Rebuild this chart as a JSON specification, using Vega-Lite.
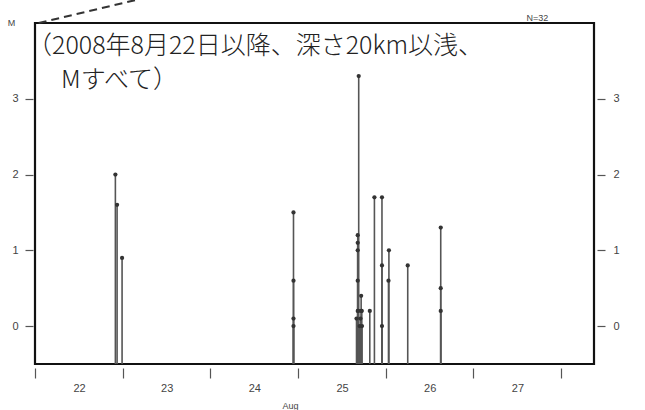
{
  "$schema": "https://vega.github.io/schema/vega-lite/v6.json",
  "autosize": "none",
  "width": 559,
  "height": 341,
  "padding": {"left": 35, "top": 23, "right": 51, "bottom": 46},
  "background": "white",
  "config": {
    "view": {"stroke": "#111", "strokeWidth": 2.2},
    "font": "Liberation Sans"
  },
  "datasets": {
    "events": [
      {"time": "2008-08-22T22:00:00Z", "M": 2.0},
      {"time": "2008-08-22T22:28:00Z", "M": 1.6},
      {"time": "2008-08-22T23:50:00Z", "M": 0.9},
      {"time": "2008-08-24T22:45:00Z", "M": 1.5},
      {"time": "2008-08-24T22:45:00Z", "M": 0.6},
      {"time": "2008-08-24T22:45:00Z", "M": 0.1},
      {"time": "2008-08-24T22:45:00Z", "M": 0.0},
      {"time": "2008-08-25T16:36:00Z", "M": 3.3},
      {"time": "2008-08-25T16:20:00Z", "M": 1.2},
      {"time": "2008-08-25T16:20:00Z", "M": 1.1},
      {"time": "2008-08-25T16:20:00Z", "M": 1.0},
      {"time": "2008-08-25T16:20:00Z", "M": 0.6},
      {"time": "2008-08-25T16:20:00Z", "M": 0.2},
      {"time": "2008-08-25T17:16:00Z", "M": 0.4},
      {"time": "2008-08-25T17:25:00Z", "M": 0.2},
      {"time": "2008-08-25T16:00:00Z", "M": 0.1},
      {"time": "2008-08-25T16:30:00Z", "M": 0.2},
      {"time": "2008-08-25T16:50:00Z", "M": 0.0},
      {"time": "2008-08-25T17:05:00Z", "M": 0.1},
      {"time": "2008-08-25T17:20:00Z", "M": 0.2},
      {"time": "2008-08-25T17:30:00Z", "M": 0.0},
      {"time": "2008-08-25T19:38:00Z", "M": 0.2},
      {"time": "2008-08-25T20:54:00Z", "M": 1.7},
      {"time": "2008-08-25T22:58:00Z", "M": 1.7},
      {"time": "2008-08-25T22:58:00Z", "M": 0.8},
      {"time": "2008-08-25T22:58:00Z", "M": 0.0},
      {"time": "2008-08-26T00:52:00Z", "M": 1.0},
      {"time": "2008-08-26T00:45:00Z", "M": 0.6},
      {"time": "2008-08-26T06:01:00Z", "M": 0.8},
      {"time": "2008-08-26T15:03:00Z", "M": 1.3},
      {"time": "2008-08-26T15:03:00Z", "M": 0.5},
      {"time": "2008-08-26T15:03:00Z", "M": 0.2}
    ],
    "notes": [
      {"line1": "（2008年8月22日以降、深さ20km以浅、", "line2": "Mすべて）"}
    ]
  },
  "layer": [
    {
      "data": {"name": "events"},
      "mark": {"type": "rule", "color": "#555", "strokeWidth": 1.6},
      "encoding": {
        "x": {
          "field": "time",
          "type": "temporal",
          "scale": {
            "type": "utc",
            "domain": [
              {"year": 2008, "month": 8, "date": 22, "utc": true},
              {"year": 2008, "month": 8, "date": 28, "hours": 9, "utc": true}
            ]
          },
          "axis": {
            "values": [
              {"year": 2008, "month": 8, "date": 22, "utc": true},
              {"year": 2008, "month": 8, "date": 23, "utc": true},
              {"year": 2008, "month": 8, "date": 24, "utc": true},
              {"year": 2008, "month": 8, "date": 25, "utc": true},
              {"year": 2008, "month": 8, "date": 26, "utc": true},
              {"year": 2008, "month": 8, "date": 27, "utc": true},
              {"year": 2008, "month": 8, "date": 28, "utc": true}
            ],
            "labelExpr": "utcdate(datum.value) == 28 ? '' : '' + utcdate(datum.value)",
            "labelOffset": 44,
            "labelAlign": "center",
            "labelFlush": false,
            "labelOverlap": false,
            "labelFontSize": 11,
            "labelColor": "#444",
            "labelPadding": 4,
            "domain": false,
            "grid": false,
            "offset": 4,
            "tickSize": 10,
            "tickColor": "#555",
            "tickWidth": 1.2,
            "title": "Aug",
            "titleFontSize": 9,
            "titleFontWeight": "normal",
            "titleColor": "#444",
            "titleX": 255,
            "titleY": 37,
            "titleBaseline": "middle"
          }
        },
        "y": {
          "field": "M",
          "type": "quantitative",
          "scale": {"domain": [-0.5, 4], "nice": false, "zero": false},
          "axis": {
            "values": [0, 1, 2, 3],
            "format": "d",
            "orient": "left",
            "domain": false,
            "grid": false,
            "offset": 2,
            "tickSize": 8,
            "tickColor": "#555",
            "tickWidth": 1.2,
            "labelPadding": 7,
            "labelFontSize": 11,
            "labelColor": "#444",
            "title": "M",
            "titleAngle": 0,
            "titleFontSize": 9,
            "titleFontWeight": "normal",
            "titleColor": "#444",
            "titleX": -22,
            "titleY": -1,
            "titleAlign": "center",
            "titleBaseline": "middle"
          }
        },
        "y2": {"datum": -0.5}
      }
    },
    {
      "data": {"name": "events"},
      "mark": {"type": "point", "filled": true, "color": "#333", "size": 18, "opacity": 1},
      "encoding": {
        "x": {"field": "time", "type": "temporal"},
        "y": {
          "field": "M",
          "type": "quantitative",
          "scale": {"domain": [-0.5, 4], "nice": false, "zero": false},
          "axis": {
            "values": [0, 1, 2, 3],
            "format": "d",
            "orient": "right",
            "domain": false,
            "grid": false,
            "offset": 3,
            "tickSize": 8,
            "tickColor": "#555",
            "tickWidth": 1.2,
            "labelPadding": 8,
            "labelFontSize": 11,
            "labelColor": "#444",
            "title": "N=32",
            "titleAngle": 0,
            "titleFontSize": 9,
            "titleFontWeight": "normal",
            "titleColor": "#444",
            "titleX": -60,
            "titleY": -6,
            "titleAlign": "center",
            "titleBaseline": "middle"
          }
        }
      }
    },
    {
      "data": {"name": "notes"},
      "mark": {
        "type": "text",
        "font": "Noto Sans CJK JP",
        "fontSize": 25,
        "fontWeight": 300,
        "align": "left",
        "baseline": "middle",
        "color": "#222",
        "dx": -8
      },
      "encoding": {
        "x": {"datum": {"year": 2008, "month": 8, "date": 22, "utc": true}, "type": "temporal"},
        "y": {"datum": 3.69, "type": "quantitative", "scale": {"domain": [-0.5, 4], "nice": false, "zero": false}, "axis": null},
        "text": {"field": "line1"}
      }
    },
    {
      "data": {"name": "notes"},
      "mark": {
        "type": "text",
        "font": "Noto Sans CJK JP",
        "fontSize": 25,
        "fontWeight": 300,
        "align": "left",
        "baseline": "middle",
        "color": "#222",
        "dx": 26
      },
      "encoding": {
        "x": {"datum": {"year": 2008, "month": 8, "date": 22, "utc": true}, "type": "temporal"},
        "y": {"datum": 3.25, "type": "quantitative", "scale": {"domain": [-0.5, 4], "nice": false, "zero": false}, "axis": null},
        "text": {"field": "line2"}
      }
    },
    {
      "data": {"name": "notes"},
      "mark": {"type": "rule", "color": "#333", "strokeWidth": 2, "strokeDash": [8, 5], "clip": false},
      "encoding": {
        "x": {"datum": {"year": 2008, "month": 8, "date": 22, "hours": 1, "utc": true}, "type": "temporal"},
        "x2": {"datum": {"year": 2008, "month": 8, "date": 23, "hours": 5, "utc": true}},
        "y": {"datum": 4.0, "type": "quantitative", "scale": {"domain": [-0.5, 4], "nice": false, "zero": false}, "axis": null},
        "y2": {"datum": 4.32}
      }
    }
  ],
  "resolve": {"axis": {"y": "independent"}, "scale": {"y": "independent"}}
}
